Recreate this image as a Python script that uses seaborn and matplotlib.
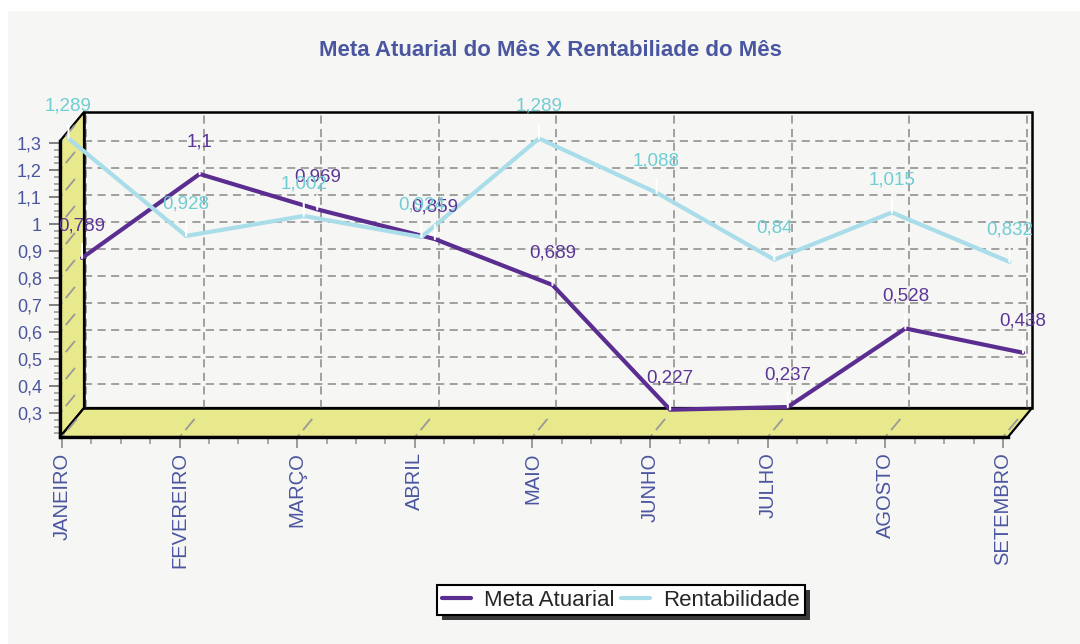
import numpy as np
import pandas as pd
import matplotlib
matplotlib.use('Agg')
import matplotlib.pyplot as plt
import matplotlib.transforms as mtransforms
from matplotlib.patches import Polygon, Rectangle
from matplotlib.lines import Line2D
from matplotlib.ticker import MultipleLocator, FixedLocator
import seaborn as sns

## dados
meses = ['JANEIRO', 'FEVEREIRO', 'MARÇO', 'ABRIL', 'MAIO', 'JUNHO', 'JULHO', 'AGOSTO', 'SETEMBRO']
meta = [0.789, 1.1, 0.969, 0.859, 0.689, 0.227, 0.237, 0.528, 0.438]
rentab = [1.289, 0.928, 1.002, 0.924, 1.289, 1.088, 0.84, 1.015, 0.832]
yticks = [0.3, 0.4, 0.5, 0.6, 0.7, 0.8, 0.9, 1.0, 1.1, 1.2, 1.3]
ytick_labels = ['0,3', '0,4', '0,5', '0,6', '0,7', '0,8', '0,9', '1', '1,1', '1,2', '1,3']

df = pd.DataFrame({'pos': np.arange(len(meses)), 'meta': meta, 'rentab': rentab})

sns.set_style('white')
plt.rcParams['font.family'] = ['Liberation Sans', 'DejaVu Sans']

C_META = '#5B2D90'
C_RENT = '#A9DDEA'
C_META_TXT = '#5C3597'
C_RENT_TXT = '#6FCDD4'
C_AXTXT = '#4B56A0'
YELLOW = '#E8E88C'
GRID = '#999999'

W, H = 1080, 644
fig = plt.figure(figsize=(W / 100, H / 100), dpi=100)
fig.patch.set_facecolor('white')
fig.patches.append(Rectangle((8 / W, 0), 1, 1 - 11 / H, transform=fig.transFigure,
                             facecolor='#F6F6F4', edgecolor='none', zorder=-10))

## plano frontal em pixels
L, R, T, B = 60, 1008, 141, 437
ax = fig.add_axes([L / W, (H - B) / H, (R - L) / W, (B - T) / H])
ax.set_facecolor('none')
x0, x1 = -2 / 117.6, 8 + 5 / 117.6
y0, y1 = 1.3 - (B - 143) / 270, 1.3 + (143 - T) / 270
ax.set_xlim(x0, x1)
ax.set_ylim(y0, y1)

## profundidade 3D
DX, DY = 24, 29
dxa, dya = DX / (R - L), DY / (B - T)
back_tr = mtransforms.offset_copy(ax.transData, fig=fig, x=DX, y=DY, units='dots')

## paredes
ax.add_patch(Polygon([(0, 0), (0, 1), (dxa, 1 + dya), (dxa, dya)], closed=True,
                     transform=ax.transAxes, facecolor=YELLOW, edgecolor='black',
                     lw=1.6, clip_on=False, zorder=1))
ax.add_patch(Polygon([(0, 0), (1, 0), (1 + dxa, dya), (dxa, dya)], closed=True,
                     transform=ax.transAxes, facecolor=YELLOW, edgecolor='black',
                     lw=1.6, clip_on=False, zorder=1))
ax.add_patch(Rectangle((dxa, dya), 1, 1, transform=ax.transAxes, fill=False,
                       edgecolor='black', lw=1.8, clip_on=False, zorder=2))

## grade no fundo
for v in yticks[:-1]:
    ax.plot([x0, x1], [v, v], transform=back_tr, color=GRID, lw=1.3,
            ls=(0, (4.5, 3)), clip_on=False, zorder=1.5)
for i in range(len(meses)):
    ax.plot([i, i], [y0, y1], transform=back_tr, color=GRID, lw=1.3,
            ls=(0, (4.5, 3)), clip_on=False, zorder=1.5)
    xa = (i - x0) / (x1 - x0)
    ax.plot([xa, xa + dxa], [0, dya], transform=ax.transAxes, color=GRID, lw=1.3,
            ls=(0, (2, 3, 8, 30)), clip_on=False, zorder=1.5)
for v in yticks:
    ya = (v - y0) / (y1 - y0)
    ax.plot([0, dxa], [ya, ya + dya], transform=ax.transAxes, color=GRID, lw=1.3,
            ls=(0, (2, 3, 8, 30)), clip_on=False, zorder=1.5)

## series
series = [('meta', C_META, C_META_TXT, 20, 23), ('rentab', C_RENT, C_RENT_TXT, 6.5, 7.5)]
for col, c, ctxt, ox, oy in series:
    tr = mtransforms.offset_copy(ax.transData, fig=fig, x=ox, y=oy, units='dots')
    sns.lineplot(data=df, x='pos', y=col, ax=ax, color=c, lw=3, sort=False)
    line = ax.lines[-1]
    line.set_transform(tr)
    line.set_clip_on(False)
    line.set_zorder(5)
    line.set_solid_joinstyle('miter')
    for xi, v in zip(df['pos'], df[col]):
        ax.annotate('', xy=(xi, v), xycoords=tr, xytext=(0, 14), textcoords='offset pixels',
                    arrowprops=dict(arrowstyle='-', color='white', lw=1.5,
                                    shrinkA=0, shrinkB=0), zorder=6)
        ax.annotate(f'{v:g}'.replace('.', ','), xy=(xi, v), xycoords=tr,
                    xytext=(0, 32), textcoords='offset pixels', ha='center', va='center',
                    fontsize=13.5, color=ctxt, zorder=7, annotation_clip=False)

## eixos
for s in ['top', 'right']:
    ax.spines[s].set_visible(False)
for s in ['left', 'bottom']:
    ax.spines[s].set_color('black')
    ax.spines[s].set_linewidth(2.4)
    ax.spines[s].set_zorder(3)
ax.set_xlabel('')
ax.set_ylabel('')
ax.yaxis.set_major_locator(FixedLocator(yticks))
ax.set_yticklabels(ytick_labels)
ax.yaxis.set_minor_locator(MultipleLocator(0.025))
ax.set_xticks(range(len(meses)))
ax.set_xticklabels(meses, rotation=90)
ax.xaxis.set_minor_locator(MultipleLocator(0.25))
ax.tick_params(axis='y', which='major', left=True, length=8, width=1.4, color='#808080',
               labelsize=13, labelcolor=C_AXTXT, pad=5)
ax.tick_params(axis='y', which='minor', left=True, length=4, width=1.2, color='#9a9a9a')
ax.tick_params(axis='x', which='major', bottom=True, length=8, width=1.4, color='#9a9a9a',
               labelsize=14.5, labelcolor=C_AXTXT, pad=3)
ax.tick_params(axis='x', which='minor', bottom=True, length=5, width=1.2, color='#9a9a9a')

fig.text(550 / W, 1 - 50 / H, 'Meta Atuarial do Mês X Rentabiliade do Mês', ha='center',
         va='center', fontsize=16, fontweight='bold', color='#4A57A0')

handles = [Line2D([], [], color=C_META, lw=3), Line2D([], [], color=C_RENT, lw=3)]
leg = fig.legend(handles, ['Meta Atuarial', 'Rentabilidade'], loc='center',
                 bbox_to_anchor=(621 / W, 1 - 600 / H), ncol=2, frameon=True,
                 fancybox=False, edgecolor='black', framealpha=1, fontsize=16,
                 borderpad=0.2, handlelength=1.3, handletextpad=0.6,
                 columnspacing=0.3, borderaxespad=0)
leg.get_frame().set_linewidth(1.5)
leg.set_zorder(10)

fig.canvas.draw()
bb = leg.get_window_extent()
fig.patches.append(Rectangle((bb.x0 + 5, bb.y0 - 5), bb.width, bb.height,
                             transform=mtransforms.IdentityTransform(),
                             facecolor='#3a3a3a', edgecolor='none', zorder=9))

fig.savefig('out.png', dpi=100)
